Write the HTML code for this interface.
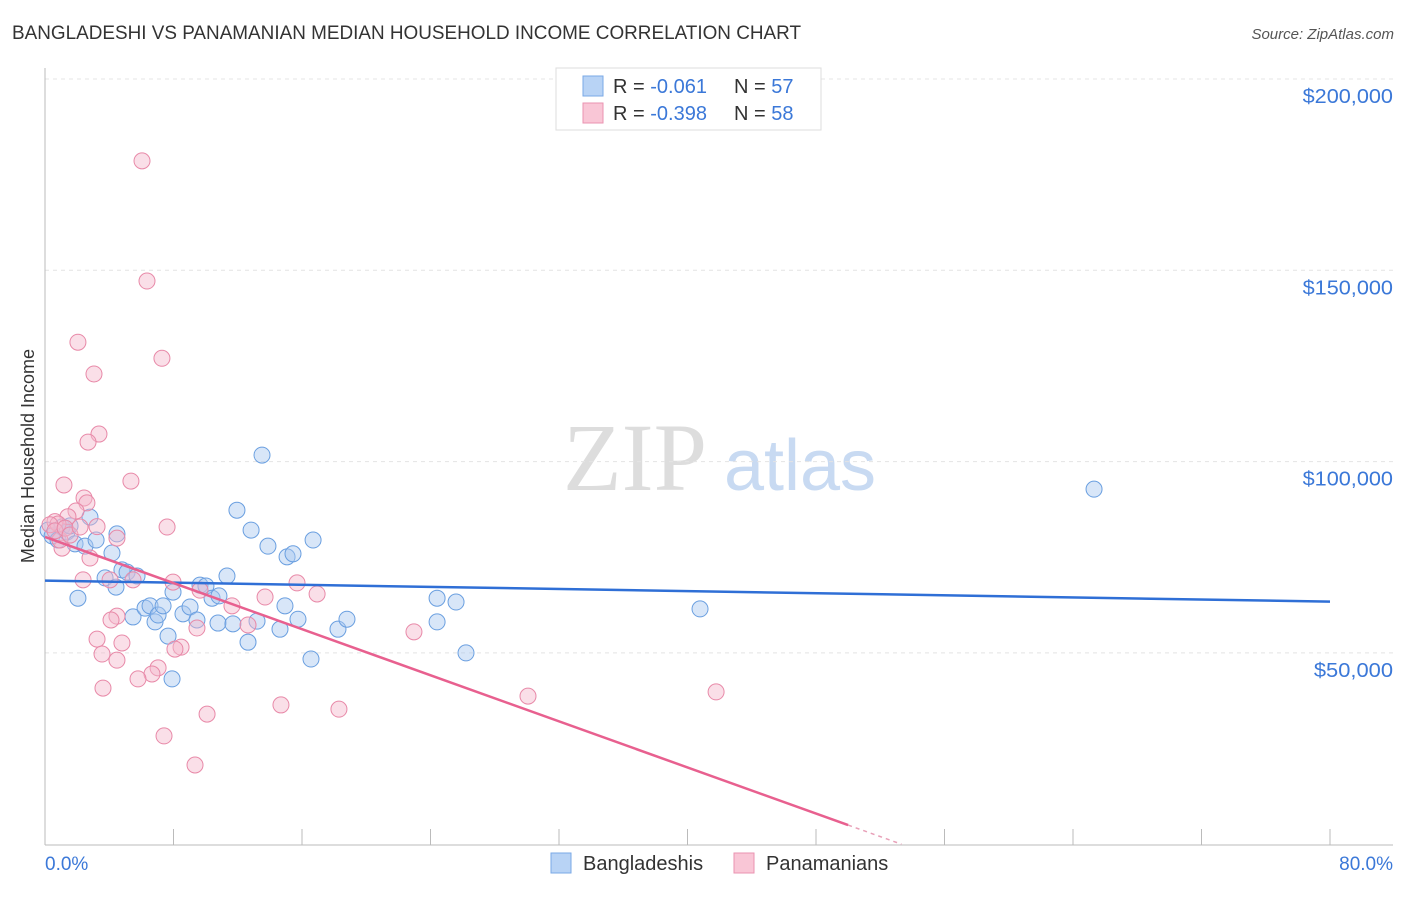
<!DOCTYPE html>
<html><head><meta charset="utf-8"><style>
body{margin:0;background:#fff;font-family:"Liberation Sans",sans-serif;}
</style></head><body>
<svg id="chart" width="1406" height="892" xmlns="http://www.w3.org/2000/svg">
<text x="12" y="39" font-size="19" fill="#333" textLength="789" lengthAdjust="spacingAndGlyphs">BANGLADESHI VS PANAMANIAN MEDIAN HOUSEHOLD INCOME CORRELATION CHART</text>
<text x="1394" y="39" font-size="15" fill="#555" font-style="italic" text-anchor="end">Source: ZipAtlas.com</text>
<g><text x="635" y="490" font-size="96" font-family="Liberation Serif" fill="#ddd" text-anchor="middle">ZIP</text><text x="800" y="490" font-size="72" fill="#c8daf2" text-anchor="middle">atlas</text></g>
<g id="grid"></g><g id="axes"></g><g id="marks"></g>
<text x="34" y="456" font-size="18" fill="#333" text-anchor="middle" transform="rotate(-90 34 456)">Median Household Income</text>
<text x="45" y="870" font-size="19" fill="#3b78d8">0.0%</text>
<text x="1393" y="870" font-size="19" fill="#3b78d8" text-anchor="end">80.0%</text>
<g>
<rect x="556" y="68" width="265" height="62" fill="#fff" stroke="#ddd"/>
<rect x="583" y="76" width="20" height="20" fill="#b8d3f5" stroke="#7aa8e6"/>
<text x="613" y="93" font-size="20" fill="#333">R = <tspan fill="#3b78d8">-0.061</tspan></text>
<text x="734" y="93" font-size="20" fill="#333">N = <tspan fill="#3b78d8">57</tspan></text>
<rect x="583" y="103" width="20" height="20" fill="#f9c6d6" stroke="#ea93b0"/>
<text x="613" y="120" font-size="20" fill="#333">R = <tspan fill="#3b78d8">-0.398</tspan></text>
<text x="734" y="120" font-size="20" fill="#333">N = <tspan fill="#3b78d8">58</tspan></text>
</g>
<g>
<rect x="551" y="853" width="20" height="20" fill="#b8d3f5" stroke="#7aa8e6"/>
<text x="583" y="870" font-size="20" fill="#333">Bangladeshis</text>
<rect x="734" y="853" width="20" height="20" fill="#f9c6d6" stroke="#ea93b0"/>
<text x="766" y="870" font-size="20" fill="#333">Panamanians</text>
</g>
</svg>
<script>
const yTicks=[50000,100000,150000,200000];
const yTickLabels=["$50,000","$100,000","$150,000","$200,000"];
const blueX=[0.19,0.44,0.81,1.06,1.37,1.56,1.87,2.05,2.49,2.80,3.18,3.74,4.17,4.42,4.48,4.79,5.11,5.48,5.73,6.23,6.54,6.85,7.04,7.35,7.66,7.91,7.97,8.59,9.03,9.46,9.65,10.02,10.40,10.77,10.83,11.33,11.70,11.95,12.64,12.83,13.20,13.51,13.88,14.63,14.94,15.07,15.44,15.75,16.56,16.69,18.24,18.80,24.41,24.41,25.59,26.21,40.78,65.31];
const blueY=[82.1,80.6,79.5,82.9,81.6,83.2,78.5,64.3,77.9,85.5,79.5,69.6,76.1,67.2,81.1,71.7,71.1,59.4,70.1,61.7,62.3,58.1,59.9,62.3,54.4,43.2,65.9,60.2,62.0,58.6,67.7,67.5,64.3,57.8,64.9,70.1,57.6,87.3,52.8,82.1,58.3,101.7,77.9,56.2,62.3,75.1,75.9,58.8,48.4,79.5,56.2,58.8,64.3,58.1,63.3,50.0,61.5,92.8];
const pinkX=[6.04,6.35,2.05,7.28,3.05,3.36,2.68,1.18,5.35,2.43,2.61,1.93,1.43,3.24,0.62,0.81,0.31,7.60,4.48,1.06,0.93,2.80,2.37,5.48,7.97,9.65,15.69,16.94,13.70,11.64,4.48,4.11,3.24,4.79,3.55,4.48,8.47,8.09,12.64,9.46,7.04,6.66,5.79,3.61,22.97,30.07,41.78,10.09,14.69,18.30,7.41,9.34,0.62,1.25,1.56,2.18,4.05];
const pinkY=[178.6,147.2,131.2,127.0,122.9,107.2,105.1,93.9,94.9,90.5,89.2,87.1,85.6,83.0,84.3,83.7,83.5,82.9,80.0,77.4,79.5,74.8,69.1,69.1,68.5,66.4,68.3,65.4,64.6,62.3,59.6,58.6,53.6,52.6,49.7,48.1,51.5,51.0,57.3,56.5,46.1,44.5,43.2,40.8,55.5,38.7,39.8,34.0,36.4,35.3,28.3,20.7,81.9,82.6,80.8,82.9,69.1];
const blueTrend=[68.9,63.4];
const pinkTrend=[80.3,-1.506];
const NS="http://www.w3.org/2000/svg";
const xS=p=>45+p/80*1285;
const yS=v=>79+(200000-v)/50000*191.3;
function mk(t,a,parent){const e=document.createElementNS(NS,t);for(const k in a)e.setAttribute(k,a[k]);parent.appendChild(e);return e;}
const grid=document.getElementById('grid'),axes=document.getElementById('axes'),marks=document.getElementById('marks');
yTicks.forEach((v,i)=>{
 const l=mk('line',{x1:45,x2:1393,y1:yS(v),y2:yS(v),stroke:'#e4e4e4','stroke-dasharray':'4,4'},grid);
 
 
 const t=mk('text',{x:1393,y:yS(v)+24,'font-size':20,fill:'#3b78d8','text-anchor':'end',textLength:(yTickLabels[i].length*11.3),lengthAdjust:'spacingAndGlyphs'},axes);
 t.textContent=yTickLabels[i];
 
 
});
const ya=mk('line',{x1:45,x2:45,y1:68,y2:845,stroke:'#bbb'},axes);


const xa=mk('line',{x1:45,x2:1393,y1:845,y2:845,stroke:'#bbb'},axes);


for(let i=0;i<=10;i++){const tk=mk('line',{x1:xS(i*8),x2:xS(i*8),y1:829,y2:845,stroke:'#bbb'},axes);
 
 }
blueX.forEach((x,i)=>{const c=mk('circle',{cx:xS(x),cy:yS(blueY[i]*1000),r:8,fill:'rgba(168,200,240,0.45)',stroke:'#6a9fe0','stroke-width':1},marks);
 
 });
pinkX.forEach((x,i)=>{const c=mk('circle',{cx:xS(x),cy:yS(pinkY[i]*1000),r:8,fill:'rgba(245,184,204,0.45)',stroke:'#e889a8','stroke-width':1},marks);
 
 });
const bl=mk('line',{x1:xS(0),y1:yS(blueTrend[0]*1000),x2:xS(80),y2:yS(blueTrend[1]*1000),stroke:'#2f6fd6','stroke-width':2.5},marks);


const pz=-pinkTrend[0]/pinkTrend[1], ps=50;
const pl=mk('line',{x1:xS(0),y1:yS(pinkTrend[0]*1000),x2:xS(ps),y2:yS((pinkTrend[0]+pinkTrend[1]*ps)*1000),stroke:'#e8608f','stroke-width':2.5},marks);


const pd=mk('line',{x1:xS(ps),y1:yS((pinkTrend[0]+pinkTrend[1]*ps)*1000),x2:xS(pz),y2:yS(0),stroke:'#e8a0b8','stroke-width':1.5,'stroke-dasharray':'4,4'},marks);


</script>
</body></html>
